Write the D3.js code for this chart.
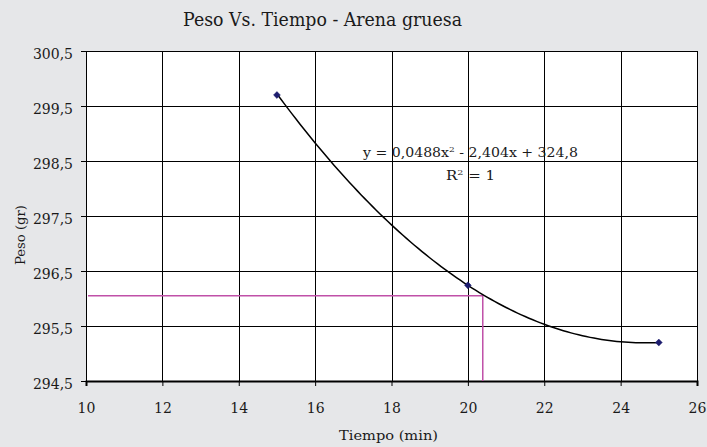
<!DOCTYPE html>
<html>
<head>
<meta charset="utf-8">
<script src="https://cdn.jsdelivr.net/npm/d3@7"></script>
<style>
  body { margin: 0; background: #e6e7e9; }
  svg { display: block; }
  svg text { font-family: "DejaVu Serif", "Liberation Serif", serif; fill: #1a1a1a; }
</style>
</head>
<body>
<svg id="svg"></svg>
<script>
// data
const tiempo = [15, 20, 25];
const peso = [299.7, 296.24, 295.2];
const xTicks = [10, 12, 14, 16, 18, 20, 22, 24, 26];
const yTicks = [294.5, 295.5, 296.5, 297.5, 298.5, 299.5, 300.5];
const trendCoef = [0.0488, -2.404, 324.8]; // a, b, c of the displayed trendline
const guideX = [20.39];
const guideY = [296.05];

const width = 707, height = 447;
const margin = { top: 51, right: 10, bottom: 66, left: 86 };
const innerW = width - margin.left - margin.right;
const innerH = height - margin.top - margin.bottom;

const xScale = d3.scaleLinear().domain([10, 26]).range([0, innerW]);
const yScale = d3.scaleLinear().domain([294.5, 300.5]).range([innerH, 0]);
const fmt = d => d3.format('.1f')(d).replace('.', ',');

const svg = d3.select('#svg').attr('width', width).attr('height', height);

// title
svg.append('text')
  .attr('x', 183).attr('y', 26)
  .attr('font-size', 18)
  .attr('textLength', 279).attr('lengthAdjust', 'spacingAndGlyphs')
  .text('Peso Vs. Tiempo - Arena gruesa');

const g = svg.append('g').attr('transform', `translate(${margin.left},${margin.top})`);

// plot area
g.append('rect').attr('width', innerW).attr('height', innerH).attr('fill', '#fff');

// grid
g.selectAll('.vgrid').data(xTicks).enter().append('line')
  .attr('x1', d => Math.round(xScale(d)) + 0.5).attr('x2', d => Math.round(xScale(d)) + 0.5)
  .attr('y1', 0).attr('y2', innerH)
  .attr('stroke', '#000').attr('stroke-width', 1);
g.selectAll('.hgrid').data(yTicks).enter().append('line')
  .attr('y1', d => Math.round(yScale(d)) + 0.5).attr('y2', d => Math.round(yScale(d)) + 0.5)
  .attr('x1', 0).attr('x2', innerW)
  .attr('stroke', '#000').attr('stroke-width', 1);

// axes
const xAxis = g.append('g')
  .attr('transform', `translate(0,${innerH})`)
  .call(d3.axisBottom(xScale).tickValues(xTicks).tickSize(5).tickPadding(17).tickFormat(d3.format('d')));
const yAxis = g.append('g')
  .call(d3.axisLeft(yScale).tickValues(yTicks).tickSize(5).tickPadding(8).tickFormat(fmt));
[xAxis, yAxis].forEach(a => {
  a.attr('font-family', null).attr('font-size', 14);
  a.selectAll('line').attr('stroke', '#000');
  a.select('.domain').attr('stroke', '#000');
});
yAxis.selectAll('text').attr('dy', '0.55em');
xAxis.select('.domain').attr('stroke-width', 2);

// guide lines (magenta)
g.append('path')
  .attr('d', `M2,${yScale(guideY[0])}H${xScale(guideX[0])}V${innerH}`)
  .attr('fill', 'none').attr('stroke', '#c050a8').attr('stroke-width', 1.5);

// trendline
const trendXs = d3.range(15, 25.001, 0.1);
const poly = x => trendCoef[0] * x * x + trendCoef[1] * x + trendCoef[2];
g.append('path')
  .datum(trendXs)
  .attr('d', d3.line().x(d => xScale(d)).y(d => yScale(poly(d))))
  .attr('fill', 'none').attr('stroke', '#000').attr('stroke-width', 1.5);

// markers
g.selectAll('.pt').data(tiempo).enter().append('path')
  .attr('transform', (d, i) => `translate(${xScale(d)},${yScale(peso[i])})`)
  .attr('d', d3.symbol(d3.symbolDiamond2, 30))
  .attr('fill', '#1c1c6e').attr('stroke', '#1c1c6e').attr('stroke-width', 0.5);

// equation
g.append('text')
  .attr('x', 363 - margin.left).attr('y', 157 - margin.top)
  .attr('font-size', 12.5)
  .attr('textLength', 215).attr('lengthAdjust', 'spacingAndGlyphs')
  .html('y = 0,0488x<tspan dy="-5" font-size="8">2</tspan><tspan dy="5"> - 2,404x + 324,8</tspan>');
g.append('text')
  .attr('x', 446 - margin.left).attr('y', 180 - margin.top)
  .attr('font-size', 12.5)
  .attr('textLength', 49).attr('lengthAdjust', 'spacingAndGlyphs')
  .html('R<tspan dy="-5" font-size="8">2</tspan><tspan dy="5"> = 1</tspan>');

// axis labels
svg.append('text')
  .attr('x', 339).attr('y', 440)
  .attr('font-size', 13)
  .attr('textLength', 99).attr('lengthAdjust', 'spacingAndGlyphs')
  .text('Tiempo (min)');
svg.append('text')
  .attr('transform', 'translate(25,265) rotate(-90)')
  .attr('font-size', 13)
  .attr('textLength', 60).attr('lengthAdjust', 'spacingAndGlyphs')
  .text('Peso (gr)');
</script>
</body>
</html>
